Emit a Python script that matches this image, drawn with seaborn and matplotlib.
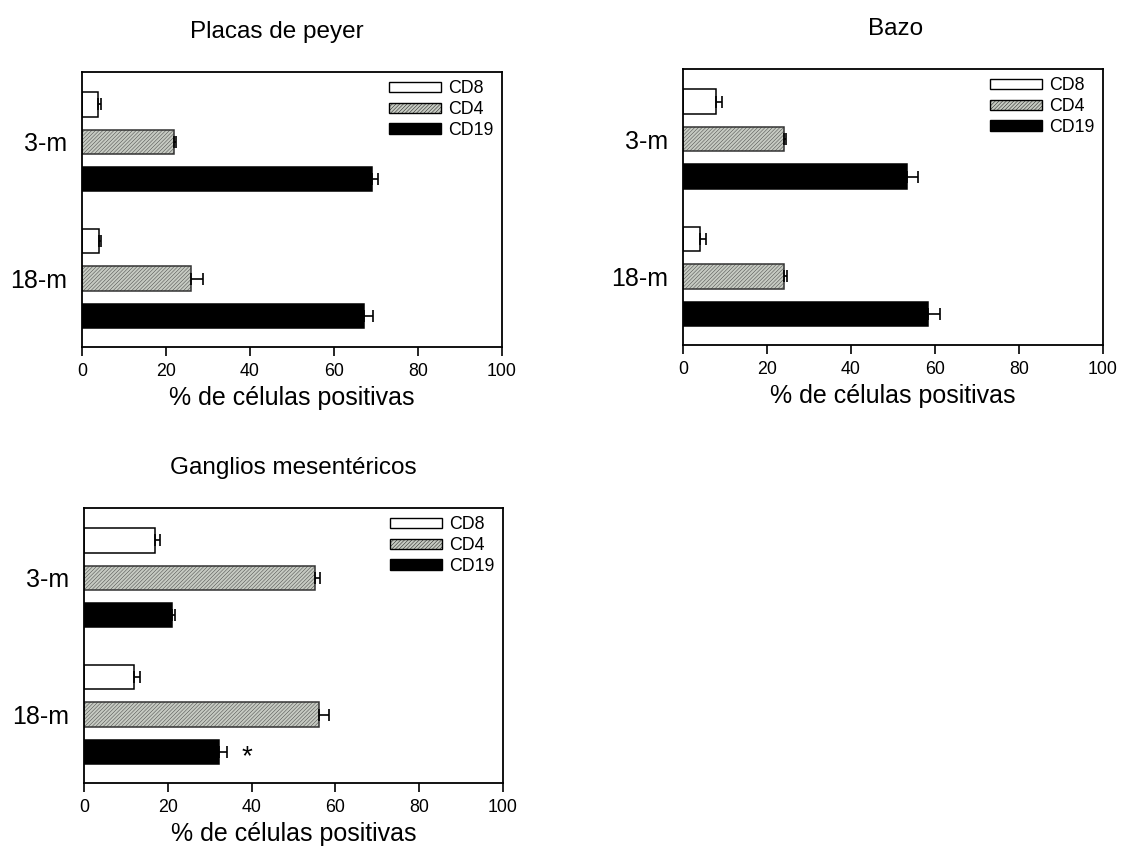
import matplotlib
matplotlib.use("Agg")
import matplotlib.pyplot as plt
from matplotlib.patches import Patch
import seaborn as sns
import pandas as pd

# values (% positive cells, mean and SEM)
ages = ['3-m', '18-m']
cells = ['CD8', 'CD4', 'CD19']

peyer_cd8 = [3.9, 4.1]
peyer_cd4 = [21.9, 25.9]
peyer_cd19 = [69.1, 67.2]
peyer_cd8_err = [0.6, 0.5]
peyer_cd4_err = [0.5, 2.9]
peyer_cd19_err = [1.4, 2.1]

bazo_cd8 = [7.9, 4.0]
bazo_cd4 = [24.0, 24.1]
bazo_cd19 = [53.3, 58.3]
bazo_cd8_err = [1.5, 1.4]
bazo_cd4_err = [0.6, 0.6]
bazo_cd19_err = [2.6, 2.9]

gang_cd8 = [16.9, 11.9]
gang_cd4 = [55.1, 56.1]
gang_cd19 = [20.9, 32.2]
gang_cd8_err = [1.3, 1.4]
gang_cd4_err = [1.3, 2.3]
gang_cd19_err = [0.7, 2.0]

xticks = [0, 20, 40, 60, 80, 100]

sns.set_style('ticks')
plt.rcParams['font.family'] = ['Liberation Sans', 'DejaVu Sans']
plt.rcParams['hatch.linewidth'] = 0.3
plt.rcParams['text.color'] = 'black'
plt.rcParams['axes.labelcolor'] = 'black'
plt.rcParams['xtick.color'] = 'black'
plt.rcParams['ytick.color'] = 'black'

colors = {'CD8': 'white', 'CD4': '#c6cac2', 'CD19': 'black'}
hatches = {'CD8': None, 'CD4': '/////////', 'CD19': None}


def make_df(cd8, cd4, cd19):
    rows = []
    for i, a in enumerate(ages):
        rows.append({'age': a, 'cell': 'CD8', 'value': cd8[i]})
        rows.append({'age': a, 'cell': 'CD4', 'value': cd4[i]})
        rows.append({'age': a, 'cell': 'CD19', 'value': cd19[i]})
    return pd.DataFrame(rows)


def draw_panel(ax, title, title_x, vals, errs):
    df = make_df(*vals)
    sns.barplot(data=df, y='age', x='value', hue='cell', order=ages,
                hue_order=cells, palette=colors, orient='h', saturation=1,
                width=0.82, gap=0.35, errorbar=None, edgecolor='black',
                linewidth=1.1, legend=False, ax=ax)
    # hatch + one-sided error bars from the drawn bars
    bar_conts = list(ax.containers)
    for k, cont in enumerate(bar_conts):
        centers = []
        ends = []
        for p in cont.patches:
            if hatches[cells[k]]:
                p.set_hatch(hatches[cells[k]])
                p.set_edgecolor('#333333')
            centers.append(p.get_y() + p.get_height() / 2)
            ends.append(p.get_width())
        ax.errorbar(ends, centers, xerr=[[0] * len(ends), errs[k]],
                    fmt='none', ecolor='black', elinewidth=1.2,
                    capsize=4.5, capthick=1.2)

    ax.set_xlim(0, 100)
    ax.set_ylim(1.5, -0.51)
    ax.set_xticks(xticks)
    ax.tick_params(axis='x', labelsize=12.8, length=6.5, width=1.2, pad=5,
                   direction='out')
    ax.tick_params(axis='y', labelsize=18, length=0, pad=11)
    ax.set_ylabel('')
    ax.set_xlabel('% de células positivas', fontsize=18, labelpad=4)
    for s in ax.spines.values():
        s.set_visible(True)
        s.set_linewidth(1.3)
        s.set_color('black')
    ax.text(title_x, 1.145, title, transform=ax.transAxes, ha='center',
            va='center', fontsize=17.5)

    handles = [Patch(facecolor=colors[c], edgecolor='black', hatch=hatches[c],
                     linewidth=1, label=c) for c in cells]
    ax.legend(handles=handles, loc='upper right', bbox_to_anchor=(1, 1),
              borderaxespad=0, borderpad=0.45, frameon=False, fontsize=12.8,
              handlelength=2.9, handleheight=0.5, handletextpad=0.45,
              labelspacing=0.22)


fig = plt.figure(figsize=(11.22, 8.46), dpi=100)
ax1 = fig.add_axes([0.0731, 0.5898, 0.3743, 0.3251])
ax2 = fig.add_axes([0.6087, 0.5922, 0.3743, 0.3262])
ax3 = fig.add_axes([0.0749, 0.0745, 0.3734, 0.3250])

draw_panel(ax1, 'Placas de peyer', 0.464,
           [peyer_cd8, peyer_cd4, peyer_cd19],
           [peyer_cd8_err, peyer_cd4_err, peyer_cd19_err])
draw_panel(ax2, 'Bazo', 0.507,
           [bazo_cd8, bazo_cd4, bazo_cd19],
           [bazo_cd8_err, bazo_cd4_err, bazo_cd19_err])
draw_panel(ax3, 'Ganglios mesentéricos', 0.5,
           [gang_cd8, gang_cd4, gang_cd19],
           [gang_cd8_err, gang_cd4_err, gang_cd19_err])

# significance mark on 18-m CD19
ax3.text(38.9, 1.31, '*', fontsize=20, ha='center', va='center')

fig.savefig('out.png', dpi=100)
